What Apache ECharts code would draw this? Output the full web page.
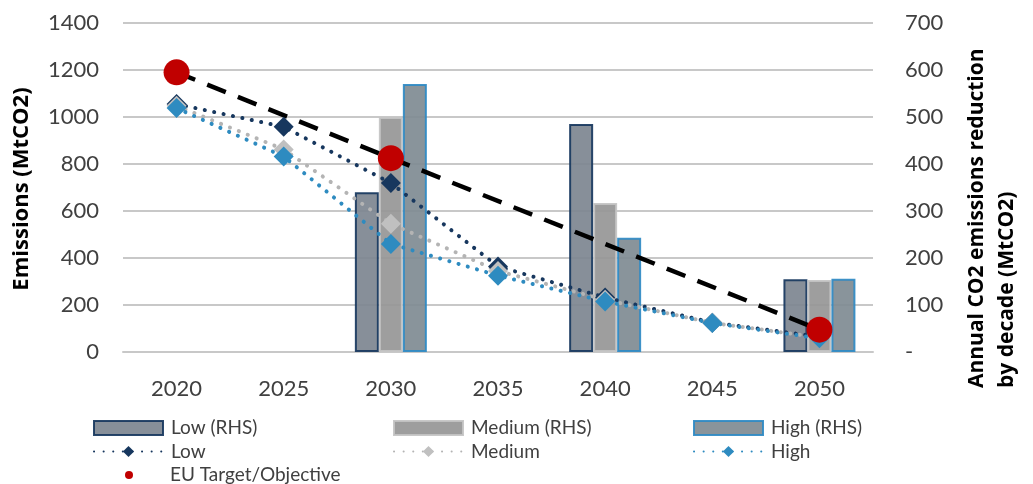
<!DOCTYPE html>
<html>
<head>
<meta charset="utf-8">
<script src="https://cdn.jsdelivr.net/npm/echarts@6/dist/echarts.min.js"></script>
<style>
html,body{margin:0;padding:0;background:#fff;}
#c{width:1033px;height:484px;}
</style>
</head>
<body>
<div id="c"></div>
<script>
const categories = ['2020', '2025', '2030', '2035', '2040', '2045', '2050'];
// Annual CO2 emissions reduction by decade (RHS, MtCO2)
const lowRHS  = [null, null, 340, null, 485, null, 155];
const medRHS  = [null, null, 500, null, 317, null, 153];
const highRHS = [null, null, 570, null, 243, null, 156];
// Emissions (LHS, MtCO2)
const lowEm  = [1055, 958, 719, 364, 232, 125, 65];
const medEm  = [1048, 862, 546, 345, 222, 124, 62];
const highEm = [1038, 832, 460, 325, 215, 123, 58];
const euTarget = [1190, null, 825, null, null, null, 95];

const leftAxis = { min: 0, max: 1400, interval: 200 };
const rightAxis = { min: 0, max: 700, interval: 100 };

const FONT = 'Lato';
const TXT = '#404040';
const GRID = '#c8c8c8';

const chart = echarts.init(document.getElementById('c'), null, { renderer: 'canvas' });

function barStyle(fill, border) {
  return { color: fill, borderColor: border, borderWidth: 2, opacity: 0.92 };
}
function dotLine(color) {
  return { color: color, width: 4, type: [0.1, 9.5], cap: 'round' };
}
const legendText = { color: TXT, fontSize: 19, fontFamily: FONT, lineHeight: 20, padding: [0, 0, 0, 3] };

const option = {
  animation: false,
  backgroundColor: '#ffffff',
  textStyle: { fontFamily: FONT },
  grid: { left: 123, right: 160, top: 23, bottom: 132 },
  xAxis: {
    type: 'category',
    data: categories,
    axisLine: { show: true, lineStyle: { color: GRID, width: 2 } },
    axisTick: { show: false },
    axisLabel: { color: TXT, fontSize: 22, fontFamily: FONT, margin: 26 }
  },
  yAxis: [
    {
      type: 'value', position: 'left',
      min: leftAxis.min, max: leftAxis.max, interval: leftAxis.interval,
      axisLine: { show: false }, axisTick: { show: false },
      axisLabel: { color: TXT, fontSize: 22, fontFamily: FONT, margin: 24, formatter: v => String(v) },
      splitLine: { show: true, lineStyle: { color: GRID, width: 2 } }
    },
    {
      type: 'value', position: 'right',
      min: rightAxis.min, max: rightAxis.max, interval: rightAxis.interval,
      axisLine: { show: false }, axisTick: { show: false },
      axisLabel: { color: TXT, fontSize: 22, fontFamily: FONT, margin: 32,
        formatter: v => v === 0 ? '-' : String(v) },
      splitLine: { show: false }
    }
  ],
  legend: [
    {
      orient: 'vertical', left: 93, top: 418, padding: 0, itemWidth: 69, itemHeight: 14, itemGap: 3.5,
      data: [{ name: 'Low (RHS)', icon: 'rect' }, { name: 'Low' }],
      textStyle: legendText
    },
    {
      orient: 'vertical', left: 393, top: 418, padding: 0, itemWidth: 69, itemHeight: 14, itemGap: 3.5,
      data: [{ name: 'Medium (RHS)', icon: 'rect' }, { name: 'Medium' }],
      textStyle: legendText
    },
    {
      orient: 'vertical', left: 693, top: 418, padding: 0, itemWidth: 69, itemHeight: 14, itemGap: 3.5,
      data: [{ name: 'High (RHS)', icon: 'rect' }, { name: 'High' }],
      textStyle: legendText
    },
    {
      orient: 'vertical', left: 125, top: 465, padding: 0, itemWidth: 8, itemHeight: 8,
      data: [{ name: 'EU Target/Objective', icon: 'circle' }],
      textStyle: Object.assign({}, legendText, { padding: [0, 0, 0, 32] })
    }
  ],
  graphic: [
    {
      type: 'text', x: 22, y: 189, rotation: Math.PI / 2,
      style: { text: 'Emissions (MtCO2)', fontFamily: 'Open Sans', fontWeight: 'bold', fontSize: 22, fill: '#000',
        align: 'center', verticalAlign: 'middle' }
    },
    {
      type: 'text', x: 992, y: 388, rotation: Math.PI / 2,
      style: { text: 'Annual CO2 emissions reduction\nby decade (MtCO2)', fontFamily: 'Open Sans', fontWeight: 'bold', fontSize: 21,
        fill: '#000', align: 'left', verticalAlign: 'middle', lineHeight: 30 }
    }
  ],
  series: [
    { name: 'Low (RHS)', type: 'bar', yAxisIndex: 1, data: lowRHS, barWidth: 24, barGap: '0%',
      itemStyle: barStyle('#7d8590', '#17375e') },
    { name: 'Medium (RHS)', type: 'bar', yAxisIndex: 1, data: medRHS, barWidth: 24, barGap: '0%',
      itemStyle: barStyle('#969696', '#c4c4c4') },
    { name: 'High (RHS)', type: 'bar', yAxisIndex: 1, data: highRHS, barWidth: 24, barGap: '0%',
      itemStyle: barStyle('#7f8b92', '#2f8ac4') },
    { name: 'EU line', type: 'line', data: euTarget, connectNulls: true, symbol: 'none',
      lineStyle: { color: '#000', width: 4.5, type: [20, 13] }, z: 3 },
    { name: 'Low', type: 'line', data: lowEm, symbol: 'diamond', symbolSize: 20,
      itemStyle: { color: '#17375e' }, lineStyle: dotLine('#17375e'), z: 4 },
    { name: 'Medium', type: 'line', data: medEm, symbol: 'diamond', symbolSize: 20,
      itemStyle: { color: '#c0c0c0' }, lineStyle: dotLine('#b4b4b4'), z: 4 },
    { name: 'High', type: 'line', data: highEm, symbol: 'diamond', symbolSize: 20,
      itemStyle: { color: '#2e8bc0' }, lineStyle: dotLine('#2e8bc0'), z: 4 },
    { name: 'EU Target/Objective', type: 'scatter', data: euTarget, symbol: 'circle', symbolSize: 26,
      itemStyle: { color: '#c00000', opacity: 1 }, z: 5 }
  ]
};
chart.setOption(option);
</script>
</body>
</html>
